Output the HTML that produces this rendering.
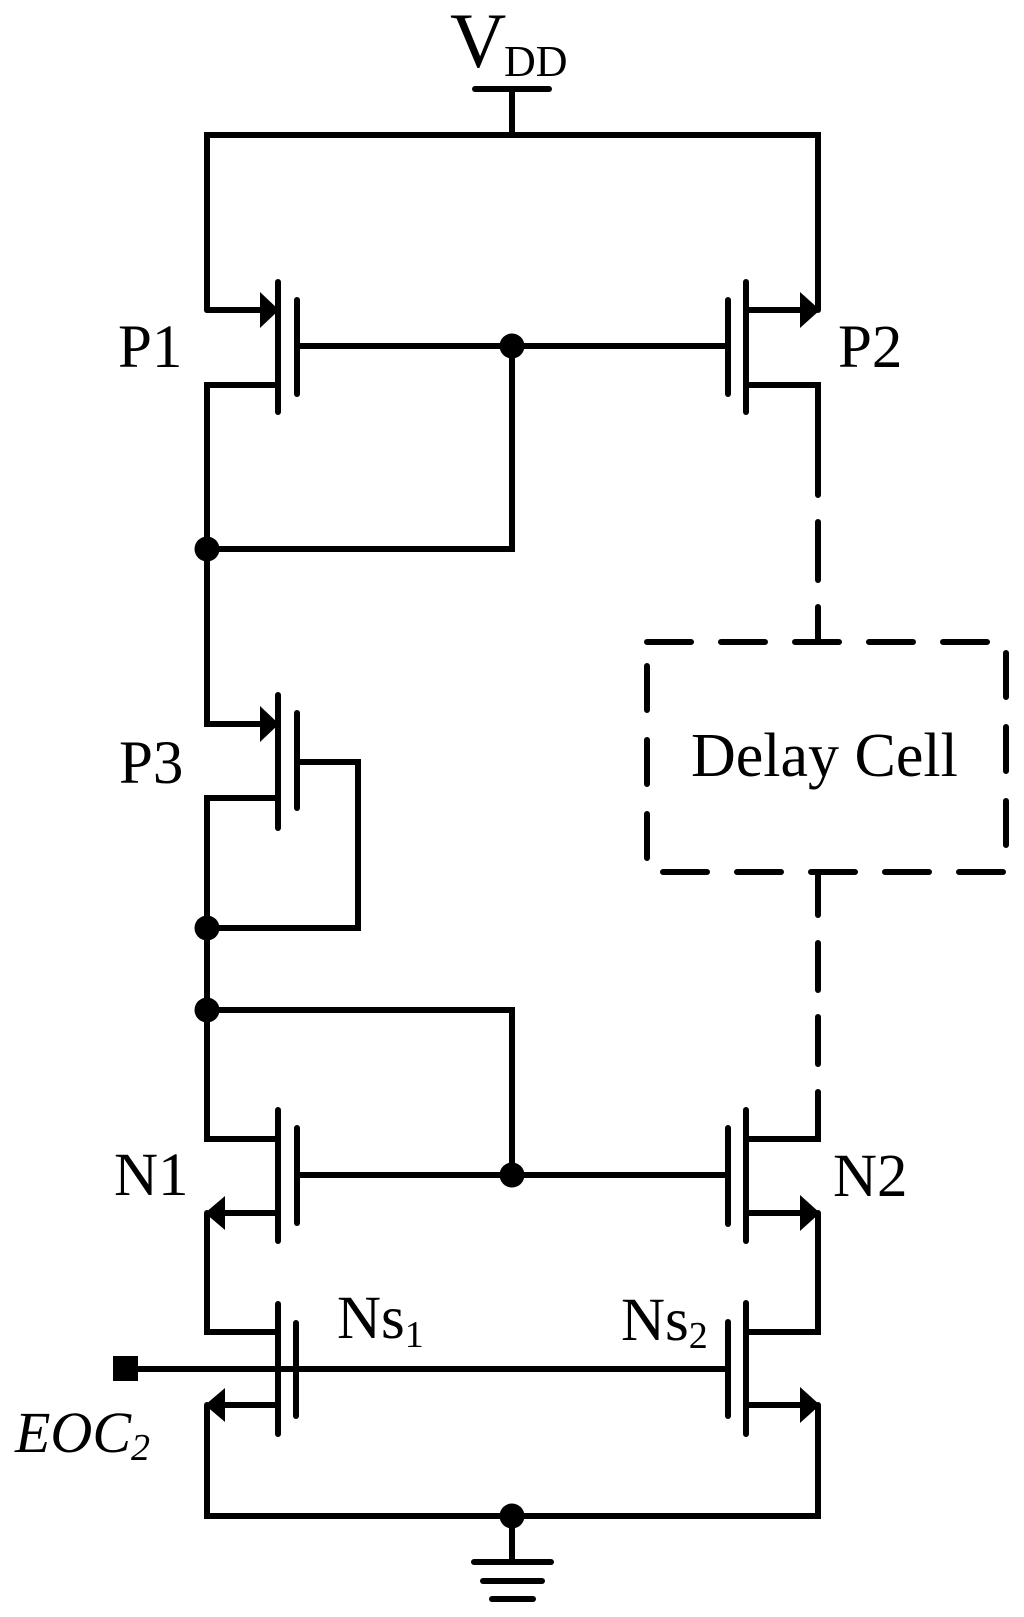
<!DOCTYPE html>
<html><head><meta charset="utf-8"><style>
html,body{margin:0;padding:0;background:#fff;}
svg{display:block;}
text{font-family:"Liberation Serif","Times New Roman",serif;fill:#000;}
</style></head><body>
<svg width="1024" height="1617" viewBox="0 0 1024 1617" xmlns="http://www.w3.org/2000/svg">
<g stroke="#000" stroke-width="6" fill="none" stroke-linecap="round" stroke-linejoin="miter">
<line x1="475" y1="89" x2="549" y2="89"/>
<line x1="512" y1="89" x2="512" y2="135"/>
<polyline points="207,310 207,135 818,135 818,310"/>
<line x1="207" y1="310" x2="262" y2="310"/>
<line x1="278" y1="282" x2="278" y2="412"/>
<line x1="297" y1="300" x2="297" y2="394"/>
<line x1="297" y1="346" x2="728" y2="346"/>
<polyline points="278,385 207,385 207,724 262,724"/>
<line x1="746" y1="282" x2="746" y2="412"/>
<line x1="728" y1="300" x2="728" y2="394"/>
<line x1="746" y1="310" x2="802" y2="310"/>
<polyline points="746,385 818,385 818,495"/>
<line x1="818" y1="522" x2="818" y2="580"/>
<line x1="818" y1="607" x2="818" y2="642"/>
<polyline points="512,346 512,549 207,549"/>
<line x1="278" y1="695" x2="278" y2="828"/>
<line x1="297" y1="713" x2="297" y2="808"/>
<polyline points="297,762 358,762 358,928 207,928"/>
<polyline points="278,798 207,798 207,1139 278,1139"/>
<polyline points="207,1010 512,1010 512,1175"/>
<line x1="278" y1="1110" x2="278" y2="1241"/>
<line x1="297" y1="1128" x2="297" y2="1223"/>
<line x1="297" y1="1175" x2="728" y2="1175"/>
<line x1="222" y1="1213" x2="278" y2="1213"/>
<polyline points="207,1213 207,1332 278,1332"/>
<line x1="746" y1="1110" x2="746" y2="1241"/>
<line x1="728" y1="1128" x2="728" y2="1224"/>
<polyline points="746,1139 818,1139 818,1092"/>
<line x1="746" y1="1213" x2="802" y2="1213"/>
<polyline points="818,1213 818,1332 746,1332"/>
<line x1="818" y1="1064" x2="818" y2="1017"/>
<line x1="818" y1="990" x2="818" y2="943"/>
<line x1="818" y1="915" x2="818" y2="872"/>
<line x1="278" y1="1304" x2="278" y2="1434"/>
<line x1="296" y1="1323" x2="296" y2="1416"/>
<line x1="138" y1="1369" x2="728" y2="1369"/>
<line x1="222" y1="1405" x2="278" y2="1405"/>
<polyline points="207,1405 207,1516 818,1516 818,1405"/>
<line x1="746" y1="1303" x2="746" y2="1434"/>
<line x1="728" y1="1322" x2="728" y2="1416"/>
<line x1="746" y1="1405" x2="802" y2="1405"/>
<line x1="512" y1="1516" x2="512" y2="1562"/>
<line x1="474" y1="1562" x2="551" y2="1562"/>
<line x1="483" y1="1581" x2="542" y2="1581"/>
<line x1="492" y1="1599" x2="533" y2="1599"/>
<rect x="647" y="642" width="359" height="230" stroke-dasharray="44 30"/>
</g>
<g fill="#000">
<polygon points="260,292 279,310 260,328"/>
<polygon points="260,706 279,724 260,742"/>
<polygon points="800,292 820,310 800,328"/>
<polygon points="800,1195 820,1213 800,1231"/>
<polygon points="800,1387 820,1405 800,1423"/>
<polygon points="225,1196 205,1213 225,1230"/>
<polygon points="225,1388 205,1405 225,1422"/>
<circle cx="512" cy="346" r="12.5"/>
<circle cx="207" cy="549" r="12.5"/>
<circle cx="207" cy="928" r="12.5"/>
<circle cx="207" cy="1010" r="12.5"/>
<circle cx="512" cy="1175" r="12.5"/>
<circle cx="512" cy="1516" r="12.5"/>
<rect x="113" y="1356" width="25" height="25"/>
</g>
<text x="450" y="67" font-size="78">V</text>
<text x="504" y="76" font-size="44">DD</text>
<text x="118" y="367" font-size="61">P1</text>
<text x="838" y="367" font-size="61">P2</text>
<text x="119" y="783" font-size="61">P3</text>
<text x="114" y="1195" font-size="61">N1</text>
<text x="833" y="1196" font-size="61">N2</text>
<text x="337" y="1338" font-size="61">Ns<tspan font-size="38" dy="9">1</tspan></text>
<text x="621" y="1340" font-size="61">Ns<tspan font-size="38" dy="8">2</tspan></text>
<text x="15" y="1452" font-size="58" font-style="italic">EOC<tspan font-size="38" dy="8">2</tspan></text>
<text x="691" y="776" font-size="62">Delay Cell</text>
</svg>
</body></html>
